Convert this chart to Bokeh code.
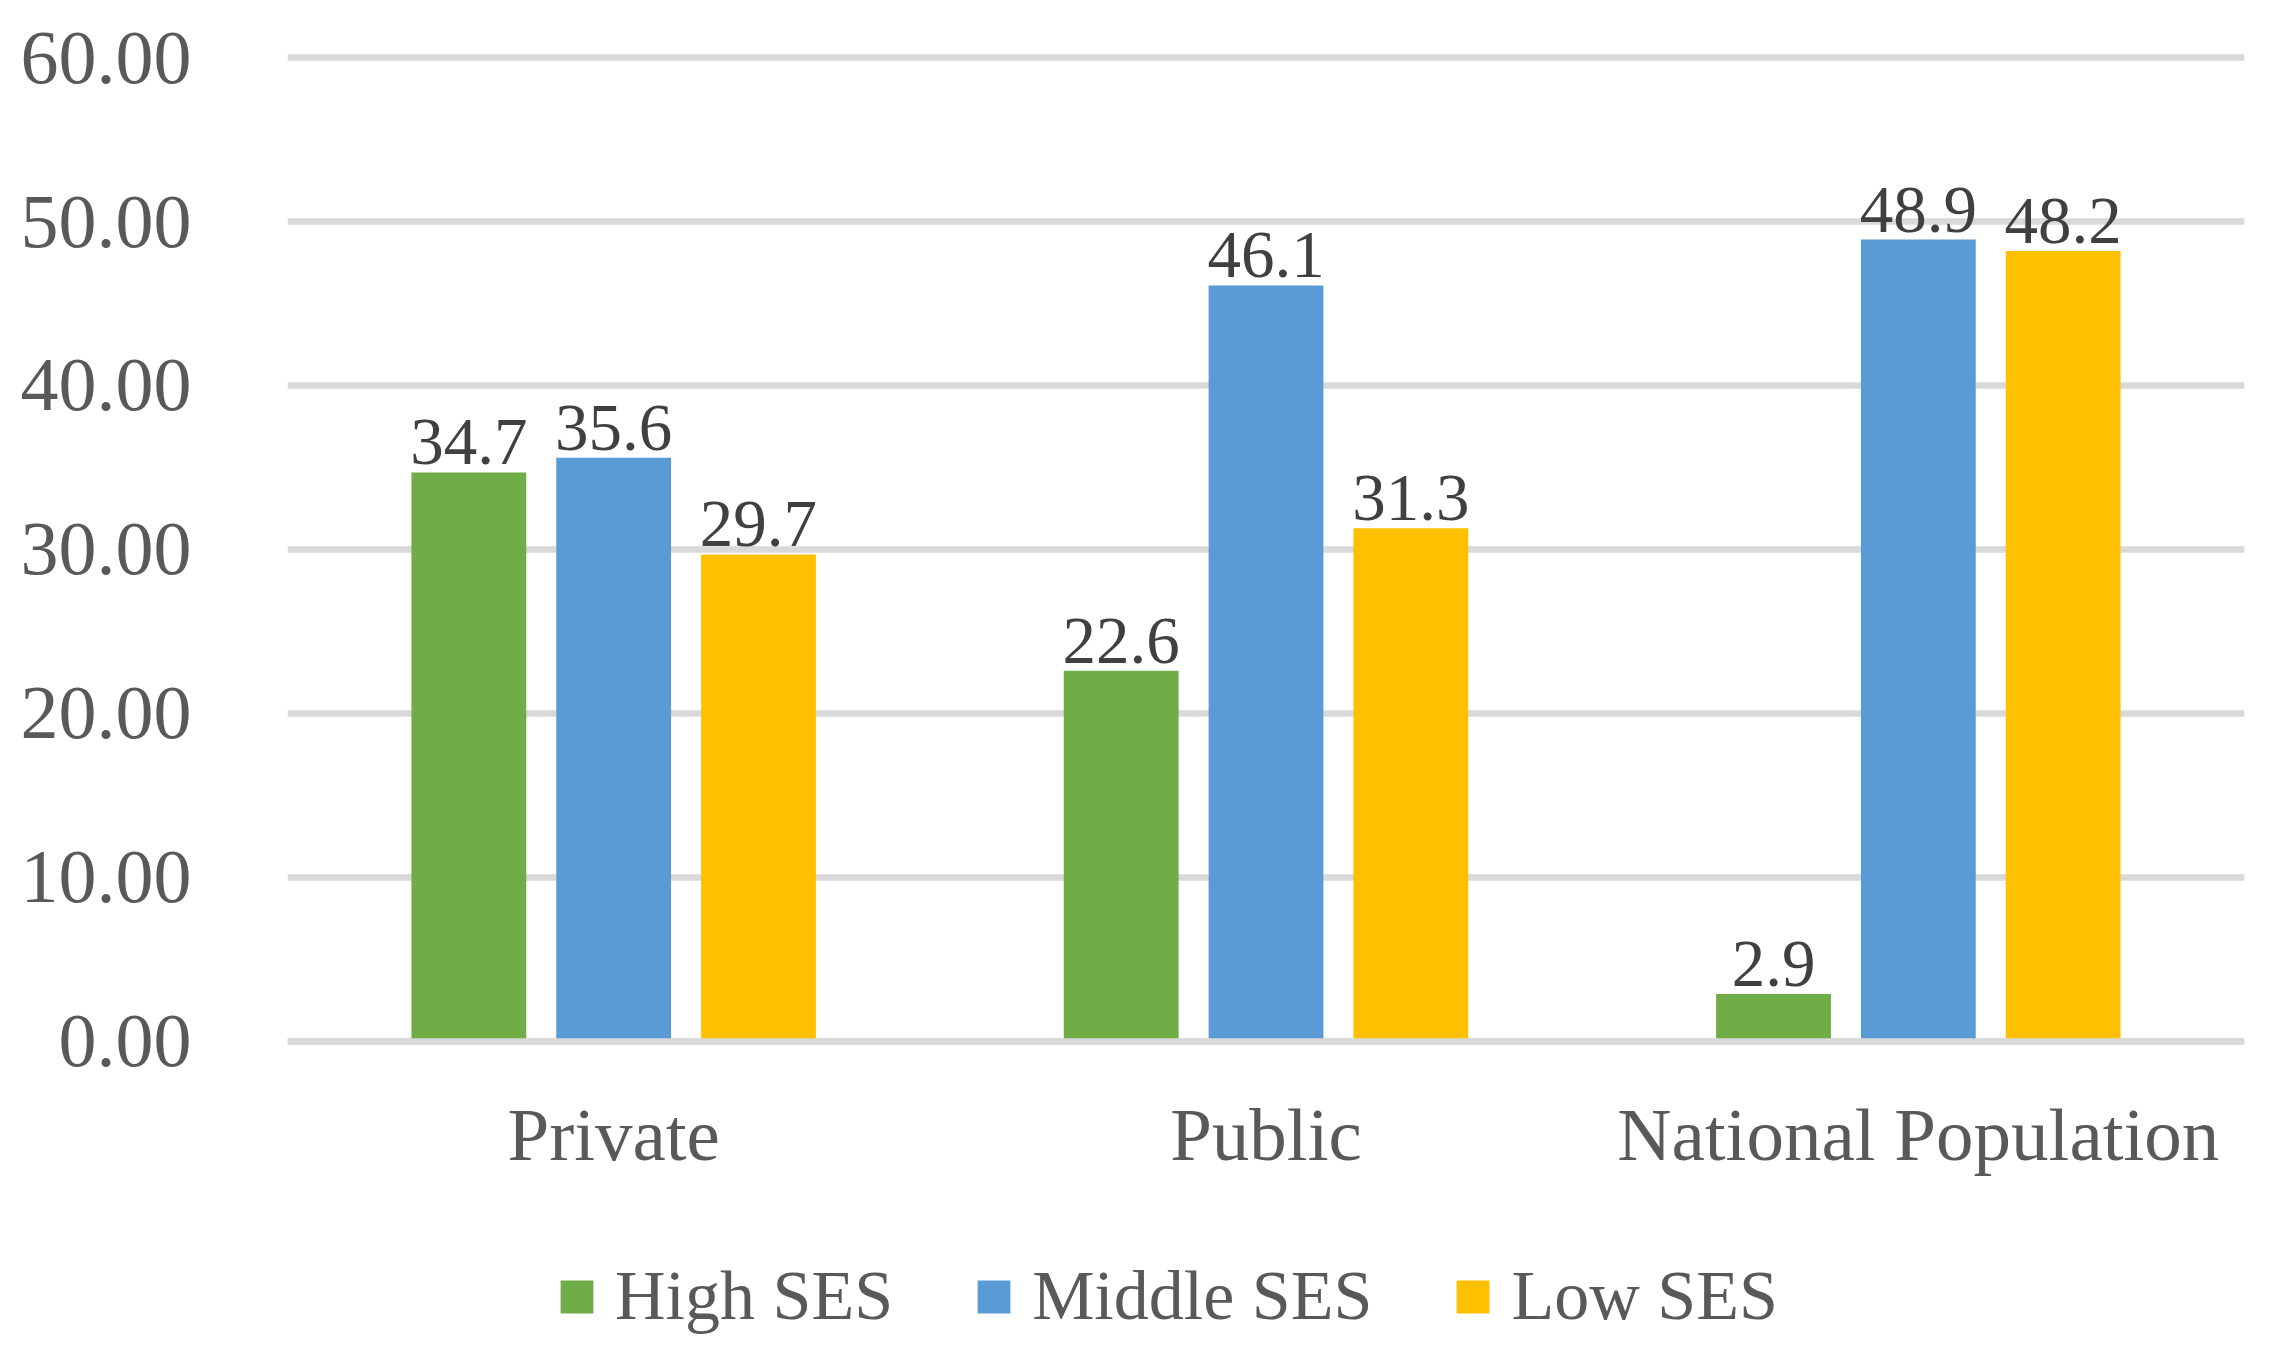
from bokeh.plotting import figure
from bokeh.models import (ColumnDataSource, FactorRange, Range1d, FixedTicker,
                          NumeralTickFormatter, Legend, LegendItem, Span)
from bokeh.transform import dodge
from bokeh.core.properties import value
from bokeh.embed import file_html
from bokeh.resources import INLINE

categories = ["Private", "Public", "National Population"]
series = ["High SES", "Middle SES", "Low SES"]
high_ses = [34.7, 22.6, 2.9]
middle_ses = [35.6, 46.1, 48.9]
low_ses = [29.7, 31.3, 48.2]
colors = ["#70AD47", "#5B9BD5", "#FFC000"]
y_ticks = [0, 10, 20, 30, 40, 50, 60]

FONT = "Liberation Serif"

src = ColumnDataSource(data=dict(
    cat=categories,
    zero=[0] * len(categories),
    high=high_ses, middle=middle_ses, low=low_ses,
    high_lbl=[f"{v:.1f}" for v in high_ses],
    middle_lbl=[f"{v:.1f}" for v in middle_ses],
    low_lbl=[f"{v:.1f}" for v in low_ses],
))

p = figure(x_range=FactorRange(*categories, range_padding=0),
           y_range=Range1d(-18.05, 60.61),
           width=2257, height=1341,
           min_border_left=287, min_border_right=13,
           min_border_top=47, min_border_bottom=4,
           output_backend="svg", toolbar_location=None,
           background_fill_color="white", border_fill_color="white")
p.outline_line_color = None

# grid
p.xgrid.grid_line_color = None
p.ygrid.grid_line_color = "#D9D9D9"
p.ygrid.grid_line_width = 6.5
p.yaxis.ticker = FixedTicker(ticks=y_ticks)
p.yaxis.formatter = NumeralTickFormatter(format="0.00")

# axes
p.xaxis.visible = False
ax = p.yaxis
ax.axis_line_color = None
ax.major_tick_line_color = None
ax.minor_tick_line_color = None
ax.major_tick_out = 0
ax.major_tick_in = 0
ax.minor_tick_out = 0
ax.major_label_text_font = FONT
ax.major_label_text_color = "#595959"
ax.major_label_text_font_size = "76px"
ax.major_label_standoff = 96

bar_w = 0.176
offsets = [-0.222, 0.0, 0.222]
fields = ["high", "middle", "low"]
renderers = []
for f, off, col in zip(fields, offsets, colors):
    r = p.vbar(x=dodge("cat", off, range=p.x_range), top=f, bottom=0,
               width=bar_w, source=src, fill_color=col, line_color=None)
    renderers.append(r)
    p.text(x=dodge("cat", off, range=p.x_range), y=f, text=f + "_lbl",
           source=src, text_align="center", text_baseline="bottom",
           y_offset=-8, text_font=value(FONT), text_font_size="67px",
           text_color="#404040")

# category labels (horizontal axis labels)
p.text(x="cat", y="zero", text="cat", source=src, text_align="center",
       text_baseline="top", y_offset=52, text_font=value(FONT),
       text_font_size="75px", text_color="#595959")

# zero axis line drawn over bars
p.add_layout(Span(location=0, dimension="width", line_color="#D9D9D9",
                  line_width=6.5))

legend = Legend(items=[LegendItem(label=s, renderers=[r]) for s, r in zip(series, renderers)],
                orientation="horizontal", location=(269, 1),
                glyph_width=41, glyph_height=41, label_standoff=18, spacing=80,
                padding=0, margin=0, border_line_color=None,
                background_fill_alpha=0,
                label_text_font=FONT, label_text_font_size="70px",
                label_text_color="#595959", label_height=41)
p.add_layout(legend, "center")

open("out.html", "w").write(file_html(p, INLINE))
